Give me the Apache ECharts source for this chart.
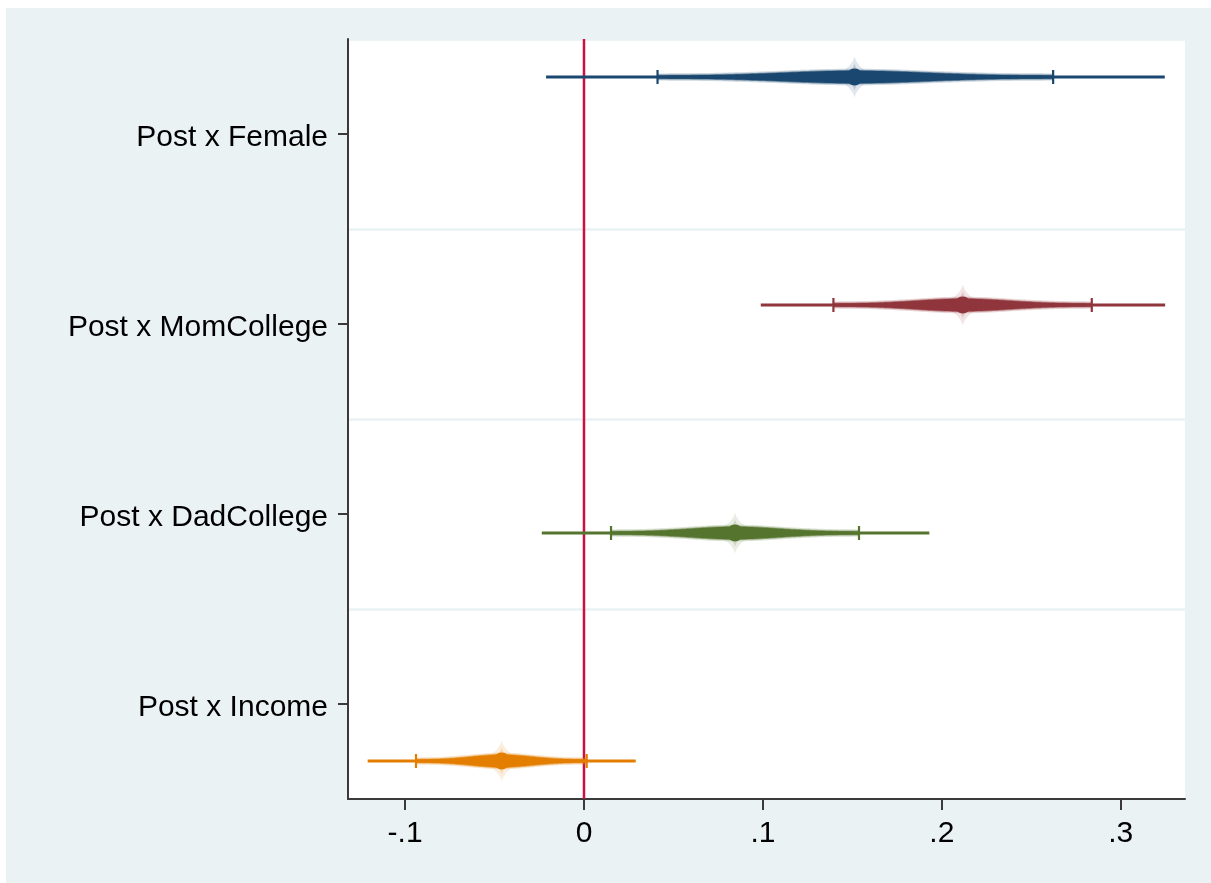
<!DOCTYPE html>
<html>
<head>
<meta charset="utf-8">
<script src="https://cdn.jsdelivr.net/npm/echarts@6/dist/echarts.min.js"></script>
<style>
  html, body { margin: 0; padding: 0; background: #ffffff; }
  #chart { position: absolute; left: 6px; top: 8px; width: 1205px; height: 875px; }
</style>
</head>
<body>
<div id="chart"></div>
<script>
// Interaction terms, one model per term
const terms = ['Post x Female', 'Post x MomCollege', 'Post x DadCollege', 'Post x Income'];
// Point estimates
const estimates = [0.1512, 0.2117, 0.0844, -0.0460];
// Inner interval (marked with caps)
const ciInnerLow  = [0.0411, 0.1394, 0.0151, -0.0939];
const ciInnerHigh = [0.2622, 0.2838, 0.1537, 0.0015];
// Outer interval (full whisker)
const ciOuterLow  = [-0.0212, 0.0988, -0.0236, -0.1209];
const ciOuterHigh = [0.3246, 0.3248, 0.1930, 0.0289];
// Reference line and x tick labels
const referenceValue = 0;
const xTicks = [-0.1, 0, 0.1, 0.2, 0.3];

const modelColors = ['#1a476f', '#90353b', '#55752f', '#e37e00'];
const nModels = terms.length;
const axisColor = '#3a3a3a';
const fontFamily = 'Liberation Sans, Arial, sans-serif';

function stataNum(v) {
  const s = String(+v.toFixed(3));
  return s.replace(/^(-?)0\./, '$1.');
}

function hexA(hex, a) {
  const n = parseInt(hex.slice(1), 16);
  return 'rgba(' + (n >> 16 & 255) + ',' + (n >> 8 & 255) + ',' + (n & 255) + ',' + a + ')';
}

// Tapered "smoothed CI" body between the inner bounds
function spindlePoints(xc, xl, xr, cy, extra) {
  const pts = [];
  const steps = 50;
  const half = (u) => 1.5 + 4.8 * Math.exp(-Math.pow(u / 0.5, 2)) + extra;
  for (let k = 0; k <= steps; k++) {
    const u = 1 - k / steps;
    pts.push([xc - (xc - xl) * u, cy - half(u)]);
  }
  for (let k = 1; k <= steps; k++) {
    const u = k / steps;
    pts.push([xc + (xr - xc) * u, cy - half(u)]);
  }
  for (let k = steps; k >= 0; k--) {
    const u = k / steps;
    pts.push([xc + (xr - xc) * u, cy + half(u)]);
  }
  for (let k = 1; k <= steps; k++) {
    const u = k / steps;
    pts.push([xc - (xc - xl) * u, cy + half(u)]);
  }
  return pts;
}

// Four-pointed soft glow around the marker
function starPoints(xc, cy, a, b) {
  const pts = [];
  const steps = 64;
  for (let k = 0; k < steps; k++) {
    const t = (k / steps) * Math.PI * 2;
    const c = Math.cos(t), s = Math.sin(t);
    pts.push([xc + a * Math.sign(c) * Math.pow(Math.abs(c), 3), cy + b * Math.sign(s) * Math.pow(Math.abs(s), 3)]);
  }
  return pts;
}

function makeCoefSeries(i) {
  const color = modelColors[i];
  const shift = (i - (nModels - 1) / 2) * 0.2;
  return {
    type: 'custom',
    name: terms[i],
    coordinateSystem: 'cartesian2d',
    z: 10,
    encode: { x: [0, 1, 2, 3, 4], y: 5 },
    data: [[estimates[i], ciOuterLow[i], ciOuterHigh[i], ciInnerLow[i], ciInnerHigh[i], i]],
    renderItem: function (params, api) {
      const row = api.value(5);
      const band = api.size([0, 1])[1];
      const cy = api.coord([0, row])[1] + shift * band;
      const xb = api.coord([api.value(0), row])[0];
      const xo1 = api.coord([api.value(1), row])[0];
      const xo2 = api.coord([api.value(2), row])[0];
      const xi1 = api.coord([api.value(3), row])[0];
      const xi2 = api.coord([api.value(4), row])[0];
      return {
        type: 'group',
        children: [
          { type: 'polygon', shape: { points: starPoints(xb, cy, 26, 21) }, style: { fill: hexA(color, 0.13) } },
          { type: 'polygon', shape: { points: starPoints(xb, cy, 16, 14) }, style: { fill: hexA(color, 0.18) } },
          { type: 'line', shape: { x1: xo1, y1: cy, x2: xo2, y2: cy }, style: { stroke: color, lineWidth: 3 } },
          { type: 'polygon', shape: { points: spindlePoints(xb, xi1, xi2, cy, 2) }, style: { fill: hexA(color, 0.22) } },
          { type: 'polygon', shape: { points: spindlePoints(xb, xi1, xi2, cy, 0.8) }, style: { fill: hexA(color, 0.5) } },
          { type: 'polygon', shape: { points: spindlePoints(xb, xi1, xi2, cy, 0) }, style: { fill: color } },
          { type: 'line', shape: { x1: xi1, y1: cy - 7, x2: xi1, y2: cy + 7 }, style: { stroke: color, lineWidth: 2.2 } },
          { type: 'line', shape: { x1: xi2, y1: cy - 7, x2: xi2, y2: cy + 7 }, style: { stroke: color, lineWidth: 2.2 } },
          { type: 'circle', shape: { cx: xb, cy: cy, r: 8.5 }, style: { fill: color } }
        ]
      };
    }
  };
}

const series = [{
  type: 'custom',
  name: 'reference',
  coordinateSystem: 'cartesian2d',
  z: 3,
  encode: { x: 0, y: 1 },
  data: [[referenceValue, 0]],
  renderItem: function (params, api) {
    const cs = params.coordSys;
    const x = api.coord([api.value(0), 0])[0];
    return { type: 'line', shape: { x1: x, y1: cs.y, x2: x, y2: cs.y + cs.height }, style: { stroke: '#cc1040', lineWidth: 2.5 } };
  }
}];
for (let i = 0; i < nModels; i++) series.push(makeCoefSeries(i));

const chart = echarts.init(document.getElementById('chart'), null, { renderer: 'canvas' });
chart.setOption({
  backgroundColor: '#eaf2f3',
  animation: false,
  textStyle: { fontFamily: fontFamily },
  grid: { left: 342, top: 31, right: 26, bottom: 84, show: true, backgroundColor: '#ffffff', borderWidth: 0 },
  xAxis: {
    type: 'value',
    min: -0.1319,
    max: 0.3359,
    splitLine: { show: false },
    axisLine: { show: true, onZero: false, lineStyle: { color: axisColor, width: 2 } },
    axisTick: { show: true, customValues: xTicks, length: 11, lineStyle: { color: axisColor, width: 2 } },
    axisLabel: {
      show: true,
      customValues: xTicks,
      formatter: stataNum,
      fontSize: 30,
      color: '#000000',
      margin: 20,
      fontFamily: fontFamily
    }
  },
  yAxis: {
    type: 'category',
    inverse: true,
    data: terms,
    boundaryGap: true,
    axisLine: { show: true, onZero: false, lineStyle: { color: axisColor, width: 2 } },
    axisTick: { show: true, alignWithLabel: true, length: 10, lineStyle: { color: axisColor, width: 2 } },
    axisLabel: {
      show: true,
      margin: 20,
      formatter: (v) => '{t|' + v + '}',
      rich: { t: { fontSize: 30, color: '#000000', fontFamily: fontFamily, padding: [7, 0, 0, 0] } }
    },
    splitLine: { show: true, lineStyle: { color: '#eaf2f3', width: 2.5 } }
  },
  series: series
});
</script>
</body>
</html>
